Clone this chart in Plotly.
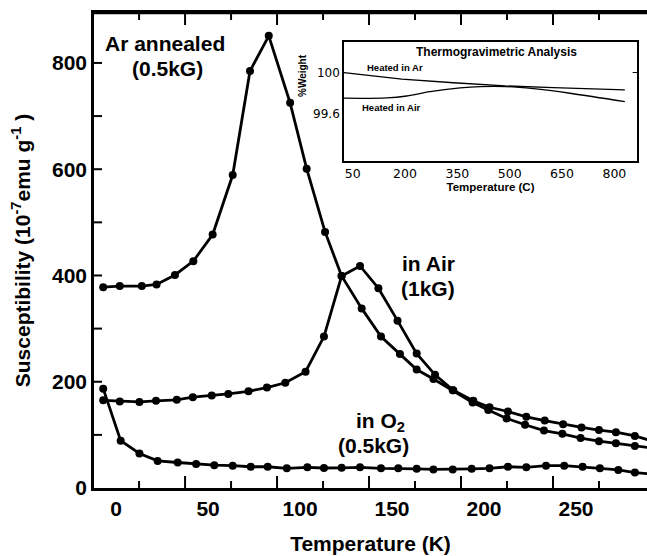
import plotly.graph_objects as go

# ---- main chart data (Temperature in K, susceptibility in 1e-7 emu/g) ----
T_ar = [-7, 2, 14, 22, 32, 42, 52.5, 63.4, 72.8, 83, 94.6, 103.6, 113.6, 122.6, 133.5, 144,
        154.3, 163.4, 172.5, 183, 193.8, 202.3, 212.3, 222.3, 232.6, 242.6, 252.5, 262.5, 271.7, 282, 292]
V_ar = [378, 380, 380, 383, 401, 427, 477, 589, 785, 851, 725, 601, 482, 399, 338, 285,
        252, 223, 205, 184, 161, 147, 131, 119, 108, 102, 94, 88, 84, 79, 75]

T_air = [-7, 2, 12.7, 21.7, 33, 41.7, 52, 61, 72, 82, 92, 103, 113, 122.6, 132.6, 142.6, 153,
         163.4, 173.4, 183.3, 194.2, 203, 213, 223, 233, 243, 253, 262.5, 271.7, 282, 292]
V_air = [165, 163, 162, 164, 166, 171, 174, 177, 182, 189, 198, 219, 285, 399, 418, 376, 315,
         253, 213, 184, 164, 152, 144, 134, 127, 120, 114, 109, 105, 98, 88]

T_o2 = [-7, 2.5, 12.7, 22.6, 33.5, 43.5, 53.4, 63.4, 73.2, 82.4, 92.8, 104, 113, 122.6, 132.6,
        144, 153.4, 163.4, 172.5, 183, 193.3, 203, 213, 223, 233.7, 243.6, 253.6, 263, 273, 282, 292]
V_o2 = [187, 89, 65, 51, 48, 45, 43, 42, 40, 40, 37, 39, 37.6, 38, 39,
        37, 37, 36, 35, 35, 36, 37, 40, 39, 42, 42, 40, 37, 34, 29, 26]

x_labels = [0, 50, 100, 150, 200, 250]
x_long_marks = [37.5, 87.5, 137.5, 187.5, 237.5]          # long tick marks (offset, as in original)
x_short_marks = [12.5, 62.5, 112.5, 162.5, 212.5, 262.5]  # short tick marks in between
y_tickvals = [0, 100, 200, 300, 400, 500, 600, 700, 800]
y_ticktext = ["0", "", "200", "", "400", "", "600", "", "800"]

# ---- inset data (thermogravimetric analysis) ----
T_tga_ar = [25, 191, 339, 487, 625, 830]
W_tga_ar = [100.0, 99.935, 99.90, 99.869, 99.852, 99.83]
T_tga_air = [25, 148, 205, 272, 358, 415, 491, 568, 673, 830]
W_tga_air = [99.748, 99.751, 99.77, 99.813, 99.849, 99.862, 99.862, 99.842, 99.797, 99.714]
tga_x_ticks = [50, 200, 350, 500, 650, 800]
tga_y_ticks = [99.6, 100]
tga_y_text = ["99.6", "100"]

FONT = "Liberation Sans"
BOLD = dict(family=FONT, size=21, color="black", weight="bold")
XR = [-12, 288.6]
W, H = 647, 556
M = dict(l=94, r=0, t=13, b=68)
PW = W - M["l"] - M["r"]
PH = H - M["t"] - M["b"]

fig = go.Figure()
line = dict(color="black", width=2.8)
marker = dict(color="black", size=8)
for T, V, name in [(T_ar, V_ar, "Ar annealed"), (T_air, V_air, "in Air"), (T_o2, V_o2, "in O2")]:
    fig.add_trace(go.Scatter(x=T, y=V, mode="lines+markers", line=line, marker=marker,
                             name=name, showlegend=False, xaxis="x", yaxis="y"))

fig.add_trace(go.Scatter(x=T_tga_ar, y=W_tga_ar, mode="lines", line=dict(color="black", width=1.3),
                         showlegend=False, xaxis="x3", yaxis="y3"))
fig.add_trace(go.Scatter(x=T_tga_air, y=W_tga_air, mode="lines", line=dict(color="black", width=1.3, shape="spline"),
                         showlegend=False, xaxis="x3", yaxis="y3"))

fig.update_layout(
    width=W, height=H,
    margin=dict(**M, pad=0),
    paper_bgcolor="white", plot_bgcolor="rgba(0,0,0,0)",
    xaxis=dict(range=XR, showline=True, linewidth=2.5, linecolor="black", mirror=True,
               tickmode="array", tickvals=x_labels, ticks="", showgrid=False, zeroline=False,
               tickfont=BOLD,
               title=dict(text="Temperature (K)", font=BOLD, standoff=18)),
    yaxis=dict(range=[0, 894], showline=True, linewidth=2.5, linecolor="black",
               tickmode="array", tickvals=y_tickvals, ticktext=y_ticktext, ticks="", showgrid=False,
               zeroline=False, tickfont=BOLD,
               title=dict(text="Susceptibility (10<sup>-7</sup>emu g<sup>-1</sup> )", font=BOLD, standoff=16)),
    xaxis3=dict(domain=[0.452, 0.982], anchor="y3", range=[25, 865], showline=True, mirror=True,
                linewidth=1.5, linecolor="black", tickmode="array", tickvals=tga_x_ticks, ticks="",
                showgrid=False, zeroline=False,
                tickfont=dict(family="DejaVu Sans", size=12.5, color="black"),
                title=dict(text="Temperature (C)", font=dict(family=FONT, size=11.5, color="black", weight="bold"),
                           standoff=2)),
    yaxis3=dict(domain=[0.688, 0.939], anchor="x3", range=[99.13, 100.30], showline=True, mirror=True,
                linewidth=1.5, linecolor="black", tickmode="array", tickvals=tga_y_ticks, ticktext=tga_y_text,
                ticks="", showgrid=False, zeroline=False,
                tickfont=dict(family="DejaVu Sans", size=12, color="black")),
)

# frame line on top and inward tick marks, placed through the axes' own scales
shapes = [dict(type="line", xref="paper", yref="paper", x0=0, x1=1, y0=1, y1=1,
               line=dict(color="black", width=2.5))]
for vals, ln in [(x_long_marks, 12), (x_short_marks, 7)]:
    for v in vals:
        for base, sgn in [(0, 1), (1, -1)]:
            shapes.append(dict(type="line", xref="x", yref="paper", x0=v, x1=v,
                               y0=base, y1=base + sgn * ln / PH, line=dict(color="black", width=2)))
for v in y_tickvals[1:]:
    shapes.append(dict(type="line", xref="paper", yref="y", x0=0, x1=8 / PW, y0=v, y1=v,
                       line=dict(color="black", width=2)))
for v in tga_y_ticks[1:]:
    shapes.append(dict(type="line", xref="x3 domain", yref="y3", x0=1, x1=0.985, y0=v, y1=v,
                       line=dict(color="black", width=1)))
fig.update_layout(shapes=shapes)

ann = [
    dict(text="Ar annealed", x=26.6, y=837, xref="x", yref="y", font=BOLD),
    dict(text="(0.5kG)", x=27.7, y=790, xref="x", yref="y", font=BOLD),
    dict(text="in Air", x=169.6, y=423, xref="x", yref="y", font=BOLD),
    dict(text="(1kG)", x=169.6, y=376, xref="x", yref="y", font=BOLD),
    dict(text="in O<sub>2</sub>", x=144, y=124, xref="x", yref="y", font=BOLD),
    dict(text="(0.5kG)", x=139.7, y=80, xref="x", yref="y", font=BOLD),
    dict(text="Thermogravimetric Analysis", x=463, y=100.197, xref="x3", yref="y3",
         font=dict(family=FONT, size=12, color="black", weight="bold")),
    dict(text="Heated in Ar", x=171, y=100.05, xref="x3", yref="y3",
         font=dict(family=FONT, size=9.5, color="black", weight="bold")),
    dict(text="Heated in Air", x=162, y=99.66, xref="x3", yref="y3",
         font=dict(family=FONT, size=9.5, color="black", weight="bold")),
    dict(text="%Weight", x=0.3767, y=0.868, xref="paper", yref="paper", textangle=-90,
         font=dict(family=FONT, size=10, color="black", weight="bold")),
]
for a in ann:
    a.update(showarrow=False, xanchor="center", yanchor="middle")
fig.update_layout(annotations=ann)

fig.write_html("out.html", post_script="document.body.style.margin='0';document.body.style.overflow='hidden';",
               config={"displayModeBar": False})
